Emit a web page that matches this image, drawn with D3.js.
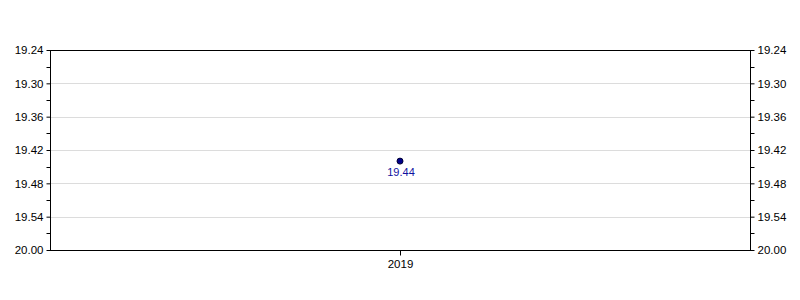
<!DOCTYPE html>
<html><head><meta charset="utf-8">
<script src="https://cdn.jsdelivr.net/npm/d3@7"></script>
<style>body{margin:0;background:#fff}svg{display:block}text{font-family:"Liberation Sans",Arial,sans-serif}</style>
</head><body>
<svg id="c" width="800" height="300"></svg>
<script>
const categories = ["2019"];
const values = [19.44];
const tickValues = [19.24, 19.30, 19.36, 19.42, 19.48, 19.54, 19.60];
const tickLabels = ["19.24", "19.30", "19.36", "19.42", "19.48", "19.54", "20.00"];
const minorTicks = [19.27, 19.33, 19.39, 19.45, 19.51, 19.57];

const svg = d3.select("#c");
const m = {l: 50, r: 50, t: 50, b: 50};
const W = 800, H = 300;
const x = d3.scalePoint().domain(categories).range([m.l, W - m.r]).padding(0.5);
const y = d3.scaleLinear().domain([19.24, 19.60]).range([m.t, H - m.b]);

// grid
svg.append("g").selectAll("line").data(tickValues.slice(1, -1)).join("line")
  .attr("x1", m.l).attr("x2", W - m.r)
  .attr("y1", d => Math.round(y(d)) + 0.5).attr("y2", d => Math.round(y(d)) + 0.5)
  .attr("stroke", "#dcdcdc").attr("stroke-width", 1);

function yAxis(axisFn, xpos) {
  const g = svg.append("g").attr("transform", `translate(${xpos + 0.5},0)`);
  g.call(axisFn(y).tickValues(tickValues).tickFormat((d, i) => tickLabels[i]).tickSize(4).tickPadding(3));
  g.selectAll(".tick text").attr("font-size", 11.5).attr("fill", "#000");
  g.select(".domain").remove();
  g.append("line").attr("y1", m.t).attr("y2", H - m.b).attr("stroke", "#000");
  const sign = axisFn === d3.axisLeft ? -1 : 1;
  g.selectAll(".minor").data(minorTicks).join("line").attr("class", "minor")
    .attr("x1", 0).attr("x2", sign * 4)
    .attr("y1", d => Math.round(y(d)) + 0.5).attr("y2", d => Math.round(y(d)) + 0.5)
    .attr("stroke", "#000");
}
yAxis(d3.axisLeft, m.l);
yAxis(d3.axisRight, W - m.r);

// top border
svg.append("line").attr("x1", m.l).attr("x2", W - m.r + 1).attr("y1", m.t + 0.5).attr("y2", m.t + 0.5).attr("stroke", "#000");

// x axis
const gx = svg.append("g").attr("transform", `translate(0,${H - m.b + 0.5})`);
gx.call(d3.axisBottom(x).tickSize(5).tickPadding(4));
gx.select(".domain").remove();
gx.append("line").attr("x1", m.l).attr("x2", W - m.r + 1).attr("stroke", "#000");
gx.selectAll(".tick text").attr("font-size", 11.5).attr("fill", "#000");

// points
const data = categories.map((c, i) => ({c, v: values[i]}));
svg.append("g").selectAll("circle").data(data).join("circle")
  .attr("cx", d => x(d.c)).attr("cy", d => y(d.v)).attr("r", 3)
  .attr("fill", "#00008b").attr("stroke", "#000033").attr("stroke-width", 1);
svg.append("g").selectAll("text").data(data).join("text")
  .attr("x", d => x(d.c) + 1).attr("y", d => y(d.v) + 15)
  .attr("text-anchor", "middle").attr("font-size", 11).attr("fill", "#1010a0")
  .text(d => d.v.toFixed(2));
</script>
</body></html>
